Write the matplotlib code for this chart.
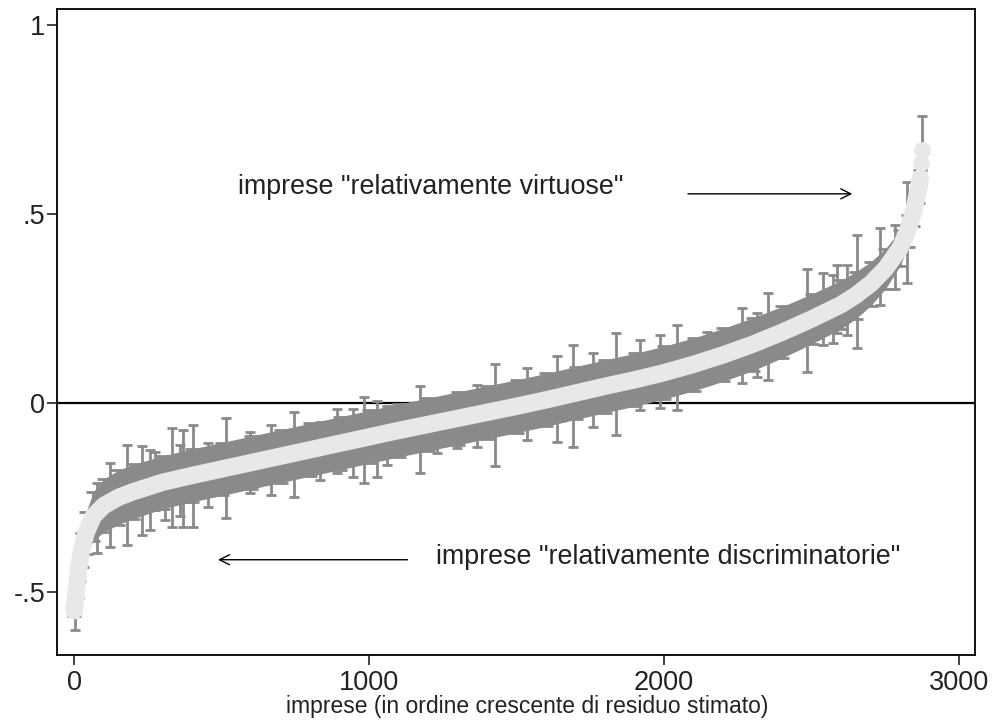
import matplotlib
matplotlib.use("Agg")
import matplotlib.pyplot as plt
import numpy as np

plt.rcParams['font.family'] = ['Liberation Sans', 'DejaVu Sans']

# Estimated residual (centre of the light band) by firm rank
rank_c = [0, 3, 8, 15, 25, 40, 65, 100, 150, 200, 300, 400, 500, 600, 700, 800,
          900, 1000, 1100, 1200, 1300, 1400, 1500, 1600, 1700, 1800, 1900, 2000,
          2100, 2200, 2300, 2400, 2500, 2600, 2650, 2700, 2750, 2800, 2825, 2845,
          2860, 2868]
val_c = [-0.55, -0.53, -0.49, -0.44, -0.39, -0.345, -0.30, -0.272, -0.25, -0.235,
         -0.21, -0.192, -0.175, -0.158, -0.141, -0.124, -0.107, -0.090, -0.073,
         -0.057, -0.041, -0.025, -0.009, 0.008, 0.026, 0.044, 0.061, 0.08, 0.102,
         0.127, 0.155, 0.187, 0.222, 0.26, 0.285, 0.315, 0.355, 0.41, 0.455, 0.505,
         0.56, 0.595]
# half-width of the dense body of confidence intervals
hw_c = [0.015, 0.02, 0.025, 0.03, 0.045, 0.055, 0.065, 0.07, 0.072, 0.072, 0.07,
        0.07, 0.07, 0.07, 0.07, 0.07, 0.07, 0.07, 0.07, 0.07, 0.07, 0.07, 0.07,
        0.07, 0.07, 0.07, 0.07, 0.07, 0.07, 0.07, 0.07, 0.068, 0.066, 0.064, 0.062,
        0.058, 0.053, 0.047, 0.042, 0.036, 0.03, 0.02]

# last isolated firms (separate circles)
rank_top = [2872, 2875]
val_top = [0.635, 0.67]

# Wider confidence intervals standing out of the band: rank, lower, upper
bar_rank = [2, 78, 122, 180, 231, 258, 275, 308, 332, 359, 369, 403, 454, 515,
            597, 668, 746, 834, 892, 946, 983, 1027, 1061, 1173, 1231, 1298, 1366,
            1427, 1536, 1637, 1692, 1759, 1837, 1919, 1986, 2044, 2146, 2264, 2315,
            2353, 2485, 2539, 2573, 2586, 2620, 2654, 2732, 2783, 2824, 2875]
bar_lo = [-0.60, -0.397, -0.381, -0.376, -0.349, -0.336, -0.283, -0.310, -0.328,
          -0.300, -0.328, -0.328, -0.275, -0.304, -0.238, -0.243, -0.249, -0.204,
          -0.185, -0.196, -0.212, -0.196, -0.164, -0.185, -0.132, -0.119, -0.116,
          -0.167, -0.098, -0.103, -0.116, -0.063, -0.085, -0.019, -0.013, -0.019,
          0.053, 0.053, 0.069, 0.061, 0.082, 0.153, 0.159, 0.185, 0.180, 0.146,
          0.26, 0.30, 0.317, 0.62]
bar_hi = [-0.50, -0.212, -0.159, -0.111, -0.114, -0.124, -0.130, -0.143, -0.066,
          -0.111, -0.071, -0.058, -0.106, -0.040, -0.077, -0.058, -0.024, -0.050,
          -0.016, -0.016, 0.016, 0.005, -0.008, 0.045, 0.008, 0.021, 0.048, 0.103,
          0.093, 0.124, 0.153, 0.132, 0.185, 0.167, 0.180, 0.206, 0.188, 0.251,
          0.238, 0.291, 0.354, 0.344, 0.339, 0.365, 0.365, 0.444, 0.463, 0.471,
          0.585, 0.759]

x_ticks = [0, 1000, 2000, 3000]
y_ticks = [-0.5, 0, 0.5, 1]
y_ticklabels = ["-.5", "0", ".5", "1"]

BAR = "#8a8a8a"
BAND = "#e8e8e8"

fig = plt.figure(figsize=(9.92, 7.2), dpi=100)
ax = fig.add_axes([0.0575, 0.0903, 0.9255, 0.8972])

ax.axhline(0, color="black", lw=1.6, zorder=1)

rc = np.array(rank_c)
vc = np.array(val_c)
hc = np.array(hw_c)
ax.fill_between(rc, vc - hc, vc + hc, color=BAR, lw=0, zorder=2)
ax.errorbar(rc, vc, yerr=hc, fmt="none", ecolor=BAR, elinewidth=2,
            capsize=5, capthick=2, zorder=2)

br = np.array(bar_rank)
lo = np.array(bar_lo)
hi = np.array(bar_hi)
ax.vlines(br, lo, hi, color=BAR, lw=2, zorder=3)
ax.hlines(lo, br - 17, br + 17, color=BAR, lw=2, zorder=3)
ax.hlines(hi, br - 17, br + 17, color=BAR, lw=2, zorder=3)

ax.plot(rank_c, val_c, color=BAND, lw=12.5, solid_capstyle="round",
        solid_joinstyle="round", zorder=4)
ax.plot(rank_top, val_top, "o", color=BAND, ms=12, mec="none", zorder=4)

ax.set_xlim(-58, 3054)
ax.set_ylim(-0.667, 1.042)
ax.set_xticks(x_ticks)
ax.set_xticklabels([str(t) for t in x_ticks])
ax.set_yticks(y_ticks)
ax.set_yticklabels(y_ticklabels)
ax.tick_params(axis="both", direction="out", length=7, width=1.2,
               labelsize=19.5, colors="#222222", pad=4)
ax.tick_params(axis="y", pad=1.5)
for s in ax.spines.values():
    s.set_linewidth(1.4)
    s.set_color("#111111")

ax.set_xlabel("imprese (in ordine crescente di residuo stimato)", fontsize=16.5,
              color="#222222", labelpad=0)
ax.xaxis.set_label_coords(0.512, -0.062)

ax.text(556, 0.571, 'imprese "relativamente virtuose"', fontsize=19.4,
        color="#222222", va="center", ha="left")
ax.text(1227, -0.407, 'imprese "relativamente discriminatorie"', fontsize=19.4,
        color="#222222", va="center", ha="left")

ax.annotate("", xy=(2647, 0.553), xytext=(2071, 0.553),
            arrowprops=dict(arrowstyle="->", color="black", lw=1.0,
                            mutation_scale=18))
ax.annotate("", xy=(478, -0.415), xytext=(1139, -0.415),
            arrowprops=dict(arrowstyle="->", color="black", lw=1.0,
                            mutation_scale=18))

fig.savefig("out.png", dpi=100)
